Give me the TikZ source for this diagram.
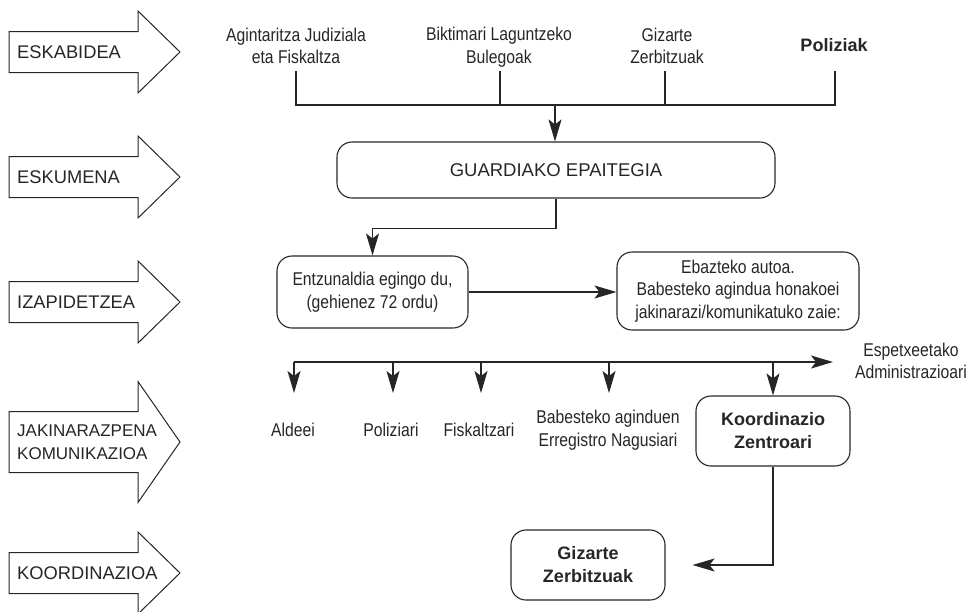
\documentclass[tikz,border=0pt]{standalone}
\usepackage{fontspec}
\setmainfont{Liberation Sans}
\newfontfamily\cond{Liberation Sans}[FakeStretch=0.85]
\usetikzlibrary{arrows.meta}
\definecolor{ink}{HTML}{262626}
\tikzset{
  stage/.style={draw=ink, line width=1pt, fill=white},
  stagelabel/.style={anchor=west, font=\fontsize{18.3}{23}\selectfont, align=left, inner sep=0pt, text=ink},
  txt/.style={font=\cond\fontsize{18.5}{22.5}\selectfont, align=center, inner sep=0pt, text=ink},
  boldtxt/.style={font=\bfseries\fontsize{18}{23}\selectfont, align=center, inner sep=0pt, text=ink},
  rbox/.style={draw=ink, rounded corners=15pt, line width=1.1pt},
  conn/.style={draw=ink, line width=1.2pt},
  arr/.style={conn, -{Stealth[length=22pt,width=13pt,inset=5pt]}},
}
\newcommand\stagearrow[3]{%
  \draw[stage] (9,#1-#2) -- (138,#1-#2) -- (138,#1-#3) -- (180,#1) -- (138,#1+#3) -- (138,#1+#2) -- (9,#1+#2) -- cycle;}
\begin{document}
\begin{tikzpicture}[x=1pt,y=-1pt]
\useasboundingbox (0,0) rectangle (972,611);
% stage arrows
\stagearrow{52}{20.5}{41}
\stagearrow{177}{20.5}{41}
\stagearrow{302}{20.5}{41}
\stagearrow{442}{30.5}{60.5}
\stagearrow{573}{20.5}{41}
\node[stagelabel] (s1) at (17,52) {ESKABIDEA};
\node[stagelabel] (s2) at (17,177) {ESKUMENA};
\node[stagelabel] (s3) at (17,302) {IZAPIDETZEA};
\node[stagelabel, font=\fontsize{17}{23}\selectfont] (s4) at (17,442) {JAKINARAZPENA\\KOMUNIKAZIOA};
\node[stagelabel] (s5) at (17,573) {KOORDINAZIOA};
% top sources
\node[txt] (ag) at (296,46) {Agintaritza Judiziala\\eta Fiskaltza};
\node[txt] (bk) at (499,47) {Biktimari Laguntzeko\\Bulegoak};
\node[txt] (gz) at (667,46) {Gizarte\\Zerbitzuak};
\node[boldtxt] (po) at (834,45) {Poliziak};
\coordinate (h1) at (296,105);
\coordinate (h4) at (835,105);
\coordinate (hj) at (555,105);
\draw[conn] (296,71) -- (h1) -- (h4) -- (835,71);
\draw[conn] (500,71) -- (500,105);
\draw[conn] (665,71) -- (665,105);
% main boxes
\node[rbox, minimum width=438pt, minimum height=56pt, font=\fontsize{18.5}{22}\selectfont, text=ink] (gu) at (556,170) {GUARDIAKO EPAITEGIA};
\draw[arr] (hj) -- (hj |- gu.north);
\node[rbox, txt, minimum width=191pt, minimum height=72pt] (en) at (372.5,292) {Entzunaldia egingo du,\\(gehienez 72 ordu)};
\node[rbox, txt, minimum width=242pt, minimum height=78pt] (eb) at (738,291) {Ebazteko autoa.\\Babesteko agindua honakoei\\jakinarazi/komunikatuko zaie:};
\draw[arr] (gu.south) -- ++(0,30) -| (en.north);
\draw[arr] (en.east) -- (en.east -| eb.west);
% distribution
\node[txt] (esp) at (911,361) {Espetxeetako\\Administrazioari};
\coordinate (d0) at (294,362);
\coordinate (de) at (833,362);
\draw[arr] (d0) -- (de);
\coordinate (t1) at (294,393);
\coordinate (t2) at (393,393);
\coordinate (t3) at (481,393);
\coordinate (t4) at (609,393);
\node[txt] (al) at (293,430) {Aldeei};
\node[txt] (pz) at (391,430) {Poliziari};
\node[txt] (fk) at (479,430) {Fiskaltzari};
\node[txt] (bb) at (608,430) {Babesteko aginduen\\Erregistro Nagusiari};
\node[rbox, boldtxt, minimum width=154pt, minimum height=70pt] (ko) at (773,431) {Koordinazio\\Zentroari};
\draw[arr] (t1 |- d0) -- (t1);
\draw[arr] (t2 |- d0) -- (t2);
\draw[arr] (t3 |- d0) -- (t3);
\draw[arr] (t4 |- d0) -- (t4);
\draw[arr] (ko.north |- d0) -- (ko.north);
% coordination
\node[rbox, boldtxt, minimum width=154pt, minimum height=70pt] (gs) at (588,565) {Gizarte\\Zerbitzuak};
\draw[arr, shorten >=27pt] (ko.south) |- (gs.east);
\end{tikzpicture}
\end{document}
